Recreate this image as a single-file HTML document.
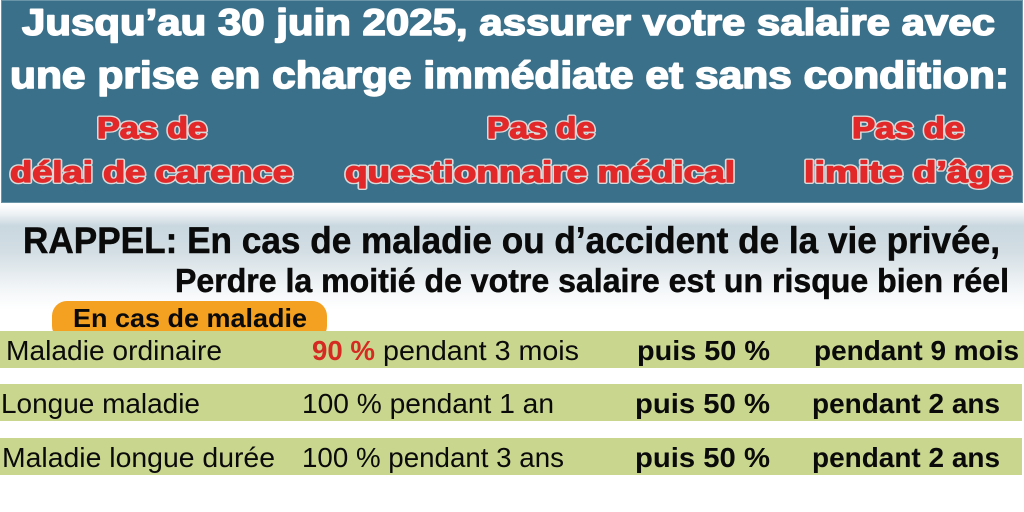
<!DOCTYPE html>
<html><head><meta charset="utf-8"><style>
html,body{margin:0;padding:0;background:#fff;width:1024px;height:512px;overflow:hidden}
svg{display:block}
text{font-family:"Liberation Sans","DejaVu Sans",sans-serif}
</style></head><body>
<svg width="1024" height="512" viewBox="0 0 1024 512" xmlns="http://www.w3.org/2000/svg">
<defs>
<linearGradient id="g" x1="0" y1="0" x2="0" y2="1">
<stop offset="0" stop-color="#ffffff"/>
<stop offset="0.08" stop-color="#eef2f5"/>
<stop offset="0.2" stop-color="#c9d7df"/>
<stop offset="0.45" stop-color="#d3dee4"/>
<stop offset="0.8" stop-color="#f3f6f8"/>
<stop offset="1" stop-color="#ffffff"/>
</linearGradient>
</defs>
<rect x="0" y="0" width="1024" height="512" fill="#fff"/>
<rect x="0" y="205" width="1024" height="105" fill="url(#g)"/>
<rect x="1.5" y="0.5" width="1021" height="202" fill="#3a7089" stroke="#6a94a8" stroke-width="1"/>

<g font-weight="bold" fill="#fff" stroke="#fff" stroke-width="1.6" stroke-linejoin="round">
<text x="22" y="35" font-size="37" textLength="973" lengthAdjust="spacingAndGlyphs">Jusqu’au 30 juin 2025, assurer votre salaire avec</text>
<text x="10" y="88" font-size="38" textLength="999" lengthAdjust="spacingAndGlyphs">une prise en charge immédiate et sans condition:</text>
</g>

<g font-weight="bold" fill="#e3282a" stroke="#d9d9d9" stroke-width="4" stroke-linejoin="round" font-size="30">
<text x="97" y="138" textLength="110" lengthAdjust="spacingAndGlyphs">Pas de</text>
<text x="10" y="182" textLength="283" lengthAdjust="spacingAndGlyphs">délai de carence</text>
<text x="487" y="138" textLength="108" lengthAdjust="spacingAndGlyphs">Pas de</text>
<text x="345" y="182" textLength="390" lengthAdjust="spacingAndGlyphs">questionnaire médical</text>
<text x="852" y="138" textLength="112" lengthAdjust="spacingAndGlyphs">Pas de</text>
<text x="804" y="182" textLength="208" lengthAdjust="spacingAndGlyphs">limite d’âge</text>
</g>
<g font-weight="bold" fill="#e3282a" stroke="#e3282a" stroke-width="1.3" stroke-linejoin="round" font-size="30">
<text x="97" y="138" textLength="110" lengthAdjust="spacingAndGlyphs">Pas de</text>
<text x="10" y="182" textLength="283" lengthAdjust="spacingAndGlyphs">délai de carence</text>
<text x="487" y="138" textLength="108" lengthAdjust="spacingAndGlyphs">Pas de</text>
<text x="345" y="182" textLength="390" lengthAdjust="spacingAndGlyphs">questionnaire médical</text>
<text x="852" y="138" textLength="112" lengthAdjust="spacingAndGlyphs">Pas de</text>
<text x="804" y="182" textLength="208" lengthAdjust="spacingAndGlyphs">limite d’âge</text>
</g>

<g font-weight="bold" fill="#0a0a0a" stroke="#0a0a0a" stroke-width="0.5">
<text x="23" y="253" font-size="37" textLength="977" lengthAdjust="spacingAndGlyphs">RAPPEL: En cas de maladie ou d’accident de la vie privée,</text>
<text x="175" y="292" font-size="33" textLength="834" lengthAdjust="spacingAndGlyphs">Perdre la moitié de votre salaire est un risque bien réel</text>
</g>

<rect x="52" y="301" width="275" height="40" rx="15" ry="15" fill="#f4a021"/>
<text x="73" y="327" font-size="26" font-weight="bold" fill="#0a0a0a" textLength="234" lengthAdjust="spacingAndGlyphs">En cas de maladie</text>

<rect x="0" y="331" width="1024" height="37" fill="#c9d68e"/>
<rect x="0" y="384" width="1022" height="37" fill="#c9d68e"/>
<rect x="0" y="438" width="1022" height="37" fill="#c9d68e"/>

<g font-size="28" fill="#0a0a0a">
<text x="6" y="360" textLength="216" lengthAdjust="spacingAndGlyphs">Maladie ordinaire</text>
<text x="312" y="360" font-weight="bold" fill="#d42a22" textLength="63" lengthAdjust="spacingAndGlyphs">90 %</text>
<text x="383" y="360" textLength="196" lengthAdjust="spacingAndGlyphs">pendant 3 mois</text>
<text x="637" y="360" font-weight="bold" textLength="133" lengthAdjust="spacingAndGlyphs">puis  50 %</text>
<text x="814" y="360" font-weight="bold" textLength="205" lengthAdjust="spacingAndGlyphs">pendant 9 mois</text>

<text x="1" y="413" textLength="199" lengthAdjust="spacingAndGlyphs">Longue maladie</text>
<text x="302" y="413" textLength="252" lengthAdjust="spacingAndGlyphs">100 % pendant 1 an</text>
<text x="635" y="413" font-weight="bold" textLength="135" lengthAdjust="spacingAndGlyphs">puis  50 %</text>
<text x="812" y="413" font-weight="bold" textLength="188" lengthAdjust="spacingAndGlyphs">pendant 2 ans</text>

<text x="2" y="467" textLength="273" lengthAdjust="spacingAndGlyphs">Maladie longue durée</text>
<text x="302" y="467" textLength="262" lengthAdjust="spacingAndGlyphs">100 % pendant 3 ans</text>
<text x="635" y="467" font-weight="bold" textLength="135" lengthAdjust="spacingAndGlyphs">puis  50 %</text>
<text x="812" y="467" font-weight="bold" textLength="188" lengthAdjust="spacingAndGlyphs">pendant 2 ans</text>
</g>
</svg>
</body></html>
